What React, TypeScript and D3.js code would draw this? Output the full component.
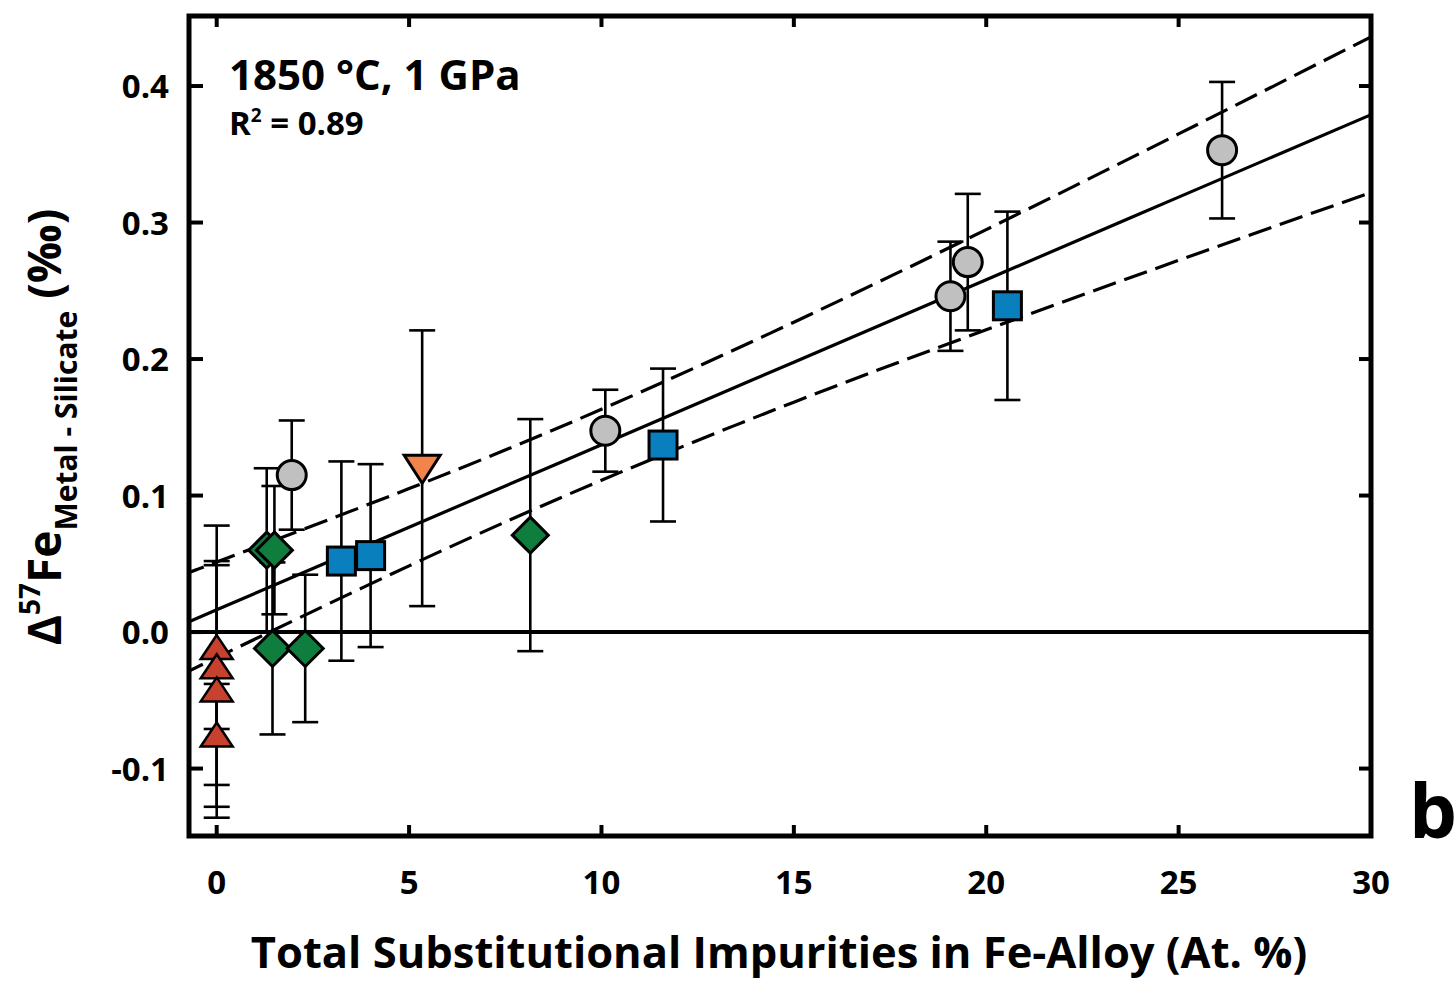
import React from "react";
import * as d3 from "d3";

// ---- data ----
const circleX = [1.95, 10.1, 19.07, 19.52, 26.13];
const circleY = [0.115, 0.1475, 0.246, 0.271, 0.353];
const circleErr = [0.04, 0.03, 0.04, 0.05, 0.05];

const squareX = [3.24, 4.0, 11.6, 20.55];
const squareY = [0.052, 0.056, 0.137, 0.239];
const squareErr = [0.073, 0.067, 0.056, 0.069];

const diamondX = [1.3, 1.5, 1.45, 2.3, 8.15];
const diamondY = [0.06, 0.06, -0.012, -0.012, 0.071];
const diamondErr = [0.06, 0.047, 0.063, 0.054, 0.085];

const upTriX = [0, 0, 0, 0];
const upTriY = [-0.011, -0.025, -0.042, -0.075];
const upTriErr = [0.06, 0.103, 0.094, 0.037];

const downTriX = [5.34];
const downTriY = [0.12];
const downTriErr = [0.101];

// regression line and confidence band, read at sample x positions
const bandX = [-0.73, 0, 5, 10, 15, 20, 25, 30];
const fitY = [0.0075, 0.0163, 0.0768, 0.1372, 0.1977, 0.2581, 0.3186, 0.379];
const upperY = [0.0437, 0.0513, 0.1051, 0.1632, 0.227, 0.2948, 0.3649, 0.436];
const lowerY = [-0.0287, -0.0187, 0.0485, 0.1112, 0.1684, 0.2214, 0.2723, 0.322];

const xTicks = [0, 5, 10, 15, 20, 25, 30];
const yTicks = [-0.1, 0.0, 0.1, 0.2, 0.3, 0.4];

const FONT = "'Open Sans', 'DejaVu Sans', sans-serif";

export default function App() {
  const W = 1455, H = 984;
  const L = 189, R = 1371, T = 16, B = 836;
  const x = d3.scaleLinear().domain([-0.72, 30]).range([L, R]);
  const y = d3.scaleLinear().domain([-0.1494, 0.4513]).range([B, T]);

  const line = d3
    .line<number>()
    .x((_, i) => x(bandX[i]))
    .curve(d3.curveNatural);
  const fitPath = line.y((d) => y(d))(fitY) as string;
  const upPath = line.y((d) => y(d))(upperY) as string;
  const loPath = line.y((d) => y(d))(lowerY) as string;

  const fmtY = (t: number) => d3.format(".1f")(t).replace("\u2212", "-");

  const errBars = (xs: number[], ys: number[], es: number[], key: string) =>
    xs.map((xv, i) => {
      const cx = x(xv);
      const y1 = y(ys[i] + es[i]);
      const y2 = y(ys[i] - es[i]);
      return (
        <g key={key + i} stroke="#000" strokeWidth={2.6}>
          <line x1={cx} x2={cx} y1={y1} y2={y2} />
          <line x1={cx - 13} x2={cx + 13} y1={y1} y2={y1} />
          <line x1={cx - 13} x2={cx + 13} y1={y2} y2={y2} />
        </g>
      );
    });

  return (
    <svg width={W} height={H} style={{ display: "block", position: "absolute", left: 0, top: 0 }}>
      <defs>
        <clipPath id="plotclip">
          <rect x={L} y={T} width={R - L} height={B - T} />
        </clipPath>
      </defs>
      <rect x={0} y={0} width={W} height={H} fill="#fff" />

      <g clipPath="url(#plotclip)">
        {/* zero line */}
        <line x1={L} x2={R} y1={y(0)} y2={y(0)} stroke="#000" strokeWidth={4} />
        {/* band */}
        <path d={upPath} fill="none" stroke="#000" strokeWidth={3.2} strokeDasharray="24 9" />
        <path d={loPath} fill="none" stroke="#000" strokeWidth={3.2} strokeDasharray="24 9" />
        <path d={fitPath} fill="none" stroke="#000" strokeWidth={3.2} />

        {/* error bars */}
        {errBars(upTriX, upTriY, upTriErr, "ut")}
        {errBars(diamondX, diamondY, diamondErr, "d")}
        {errBars(squareX, squareY, squareErr, "s")}
        {errBars(circleX, circleY, circleErr, "c")}
        {errBars(downTriX, downTriY, downTriErr, "dt")}

        {/* markers */}
        {upTriX.map((xv, i) => {
          const cx = x(xv), cy = y(upTriY[i]);
          return (
            <path
              key={"utm" + i}
              d={`M${cx},${cy - 12} L${cx + 16},${cy + 12} L${cx - 16},${cy + 12} Z`}
              fill="#c8402e"
              stroke="#000"
              strokeWidth={2.5}
              strokeLinejoin="miter"
            />
          );
        })}
        {diamondX.map((xv, i) => {
          const cx = x(xv), cy = y(diamondY[i]);
          const s = 18;
          return (
            <path
              key={"dm" + i}
              d={`M${cx},${cy - s} L${cx + s},${cy} L${cx},${cy + s} L${cx - s},${cy} Z`}
              fill="#0f7d3d"
              stroke="#000"
              strokeWidth={3}
            />
          );
        })}
        {squareX.map((xv, i) => {
          const cx = x(xv), cy = y(squareY[i]);
          return (
            <rect
              key={"sm" + i}
              x={cx - 14}
              y={cy - 14}
              width={28}
              height={28}
              fill="#0a7fbd"
              stroke="#000"
              strokeWidth={3}
            />
          );
        })}
        {circleX.map((xv, i) => (
          <circle
            key={"cm" + i}
            cx={x(xv)}
            cy={y(circleY[i])}
            r={14.5}
            fill="#c0c0c0"
            stroke="#000"
            strokeWidth={3}
          />
        ))}
        {downTriX.map((xv, i) => {
          const cx = x(xv), cy = y(downTriY[i]);
          return (
            <path
              key={"dtm" + i}
              d={`M${cx - 18},${cy - 13} L${cx + 18},${cy - 13} L${cx},${cy + 15} Z`}
              fill="#f2834a"
              stroke="#000"
              strokeWidth={3}
            />
          );
        })}
      </g>

      {/* ticks */}
      <g stroke="#000" strokeWidth={4}>
        {xTicks.map((t) => (
          <g key={"xt" + t}>
            <line x1={x(t)} x2={x(t)} y1={B} y2={B - 11} />
            <line x1={x(t)} x2={x(t)} y1={T} y2={T + 11} />
          </g>
        ))}
        {yTicks.map((t) => (
          <g key={"yt" + t}>
            <line x1={L} x2={L + 14} y1={y(t)} y2={y(t)} />
            <line x1={R} x2={R - 12} y1={y(t)} y2={y(t)} />
          </g>
        ))}
      </g>

      {/* frame */}
      <rect x={L} y={T} width={R - L} height={B - T} fill="none" stroke="#000" strokeWidth={5} />

      {/* tick labels */}
      <g fontFamily={FONT} fontWeight={700} fontSize={33} fill="#000">
        {xTicks.map((t) => (
          <text key={"xl" + t} x={x(t)} y={894} textAnchor="middle">
            {d3.format("d")(t)}
          </text>
        ))}
        {yTicks.map((t) => (
          <text key={"yl" + t} x={169} y={y(t) + 12} textAnchor="end">
            {fmtY(t)}
          </text>
        ))}
      </g>

      {/* annotations */}
      <text x={229} y={90} fontFamily={FONT} fontWeight={700} fontSize={42}>
        1850 °C, 1 GPa
      </text>
      <text x={229} y={135} fontFamily={FONT} fontWeight={700} fontSize={33}>
        R<tspan dy={-13} fontSize={19}>2</tspan>
        <tspan dy={13}> = 0.89</tspan>
      </text>

      {/* axis titles */}
      <text x={779} y={968} textAnchor="middle" fontFamily={FONT} fontWeight={700} fontSize={43.5}>
        Total Substitutional Impurities in Fe-Alloy (At. %)
      </text>
      <text
        transform="translate(61,427) rotate(-90)"
        textAnchor="middle"
        fontFamily={FONT}
        fontWeight={700}
        fontSize={46}
      >
        Δ<tspan dy={-21} fontSize={28}>57</tspan>
        <tspan dy={21}>Fe</tspan>
        <tspan dy={16} fontSize={30}>Metal - Silicate</tspan>
        <tspan dy={-16}> (‰)</tspan>
      </text>

      <text x={1409} y={838} fontFamily={FONT} fontWeight={700} fontSize={76}>
        b
      </text>
    </svg>
  );
}
